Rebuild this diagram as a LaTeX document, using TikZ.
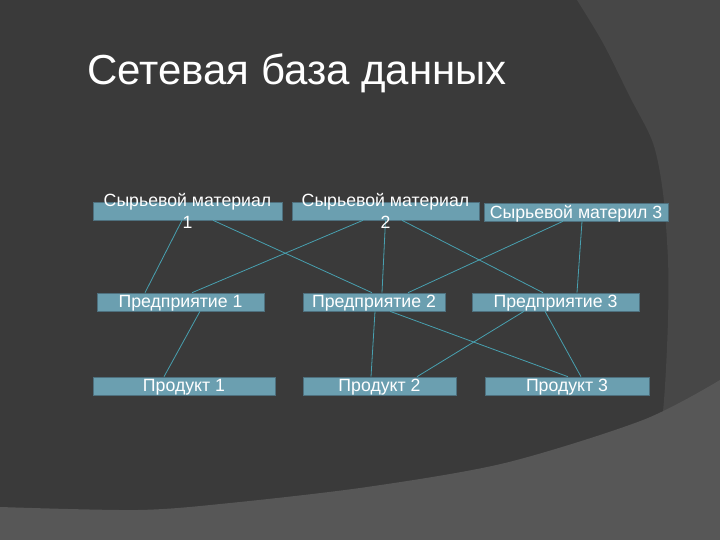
\documentclass[tikz,border=0pt]{standalone}
\usepackage{fontspec}
\setmainfont{Liberation Sans}
\definecolor{bgdark}{RGB}{58,58,58}
\definecolor{bgmid}{RGB}{71,71,71}
\definecolor{bglight}{RGB}{87,87,87}
\definecolor{boxfill}{RGB}{107,159,176}
\definecolor{boxline}{RGB}{78,112,126}
\definecolor{linkc}{RGB}{72,160,176}
\begin{document}
\begin{tikzpicture}[x=1pt,y=-1pt,
  box/.style={draw=boxline, fill=boxfill, line width=0.6pt, minimum height=18pt, inner sep=0pt},
  lbl/.style={text=white, font=\fontsize{17.7}{22}\selectfont, align=center, inner sep=0pt},
  lbl1/.style={lbl, yshift=-1.5pt},
  link/.style={draw=linkc, line width=0.8pt}]
\useasboundingbox (0,0) rectangle (720,540);
% background
\fill[bgdark] (0,0) rectangle (720,540);
\fill[bgmid] plot[smooth] coordinates {(577,0)(603,43)(630,97)(653,143)(663,193)(668,260)(668,320)(664,400)(655,480)(640,540)} -- (720,540) -- (720,0) -- cycle;
\fill[bglight] plot[smooth] coordinates {(0,507)(138,510)(230,503)(367,487)(505,463)(643,420)(720,380)} -- (720,540) -- (0,540) -- cycle;
% title
\node[anchor=base west, text=white, font=\fontsize{42}{50}\selectfont, inner sep=0pt] (title) at (87,85) {Сетевая база данных};
% boxes
\node[box, minimum width=189pt] (sm1) at (187.5,211) {};
\node[box, minimum width=187pt] (sm2) at (385.5,211) {};
\node[box, minimum width=184pt] (sm3) at (576,212) {};
\node[box, minimum width=167pt] (p1) at (180.5,302) {};
\node[box, minimum width=142pt] (p2) at (374,302) {};
\node[box, minimum width=167pt] (p3) at (555.5,302) {};
\node[box, minimum width=182pt] (pr1) at (184,386) {};
\node[box, minimum width=153pt] (pr2) at (379.5,386) {};
\node[box, minimum width=164pt] (pr3) at (567,386) {};
% connectors
\draw[link] ([xshift=-5.5pt]sm1.south) -- ([xshift=-35.5pt]p1.north);
\draw[link] ([xshift=25.5pt]sm1.south) -- ([xshift=-2pt]p2.north);
\draw[link] ([xshift=-22.5pt]sm2.south) -- ([xshift=11.5pt]p1.north);
\draw[link] ([xshift=0pt]sm2.south) -- ([xshift=8pt]p2.north);
\draw[link] ([xshift=16.5pt]sm2.south) -- ([xshift=-12.5pt]p3.north);
\draw[link] ([xshift=-13pt]sm3.south) -- ([xshift=34pt]p2.north);
\draw[link] ([xshift=6pt]sm3.south) -- ([xshift=21.5pt]p3.north);
\draw[link] ([xshift=19.5pt]p1.south) -- ([xshift=-20pt]pr1.north);
\draw[link] ([xshift=1pt]p2.south) -- ([xshift=-8.5pt]pr2.north);
\draw[link] ([xshift=16pt]p2.south) -- ([xshift=1pt]pr3.north);
\draw[link] ([xshift=-31.5pt]p3.south) -- ([xshift=37.5pt]pr2.north);
\draw[link] ([xshift=-10.5pt]p3.south) -- ([xshift=14pt]pr3.north);
% labels
\node[lbl] (tsm1) at (sm1.center) {Сырьевой материал\\1};
\node[lbl] (tsm2) at (sm2.center) {Сырьевой материал\\2};
\node[lbl1] (tsm3) at (sm3.center) {Сырьевой материл 3};
\node[lbl1] (tp1) at (p1.center) {Предприятие 1};
\node[lbl1] (tp2) at (p2.center) {Предприятие 2};
\node[lbl1] (tp3) at (p3.center) {Предприятие 3};
\node[lbl1] (tpr1) at (pr1.center) {Продукт 1};
\node[lbl1] (tpr2) at (pr2.center) {Продукт 2};
\node[lbl1] (tpr3) at (pr3.center) {Продукт 3};
\end{tikzpicture}
\end{document}
